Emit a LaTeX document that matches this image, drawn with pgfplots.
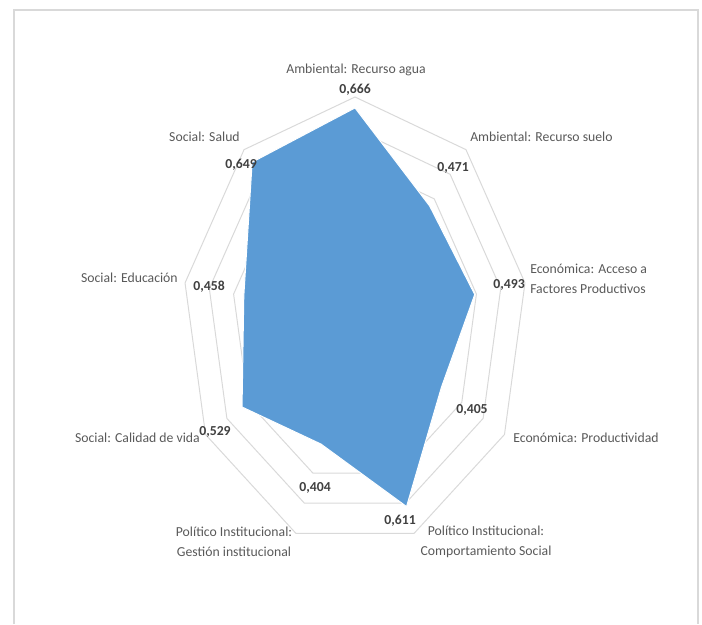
\documentclass[border=0pt]{standalone}
\usepackage{pgfplots}
\pgfplotsset{compat=1.18}
\usepackage{pgfplotstable}
\usepackage{fontspec}
\setmainfont{Carlito}

\definecolor{serie}{HTML}{5B9BD5}
\definecolor{rejilla}{HTML}{D9D9D9}
\definecolor{txtcat}{HTML}{595959}
\definecolor{txtval}{HTML}{404040}

% angle of each spoke (deg), value
\pgfplotstableread{
a v
90 0.666
50 0.471
10 0.493
-30 0.405
-70 0.611
-110 0.404
-150 0.529
170 0.458
130 0.649
}\datos

\begin{document}
\begin{tikzpicture}[
    cat/.style={font=\fontsize{10.3pt}{15pt}\selectfont, text=txtcat, inner sep=0pt},
    val/.style={font=\fontsize{10.3pt}{12pt}\selectfont\bfseries, text=txtval, inner sep=0pt},
]
\begin{axis}[
    scale only axis,
    width=526.5pt, height=468pt,
    xmin=-1.4398, xmax=1.4073,
    ymin=-0.9396, ymax=1.0018,
    hide axis, clip=false,
]
\path (rel axis cs:0,0) rectangle (rel axis cs:1,1);
\draw[rejilla, line width=1pt] (axis cs:-1.383,-0.9396) |- (axis cs:1.391,0.9707) -- (axis cs:1.391,-0.9396);

% rings 0.1 ... 0.7
\pgfplotsinvokeforeach{0.1,0.2,0.3,0.4,0.5,0.6,0.7}{
  \addplot[rejilla, line width=0.75pt, line join=miter]
    table[x expr={#1*cos(\thisrow{a})}, y expr={#1*sin(\thisrow{a})}] {\datos} -- cycle;
}

\addplot[fill=serie, draw=white, line width=0.75pt, line join=miter]
  table[x expr={\thisrow{v}*cos(\thisrow{a})}, y expr={\thisrow{v}*sin(\thisrow{a})}] {\datos} -- cycle;

% category labels
\node[cat, anchor=center] at (axis cs:0.004,0.784) {Ambiental: Recurso agua};
\node[cat, anchor=west] at (axis cs:0.4664,0.5756) {Ambiental: Recurso suelo};
\node[cat, anchor=west, align=left] at (axis cs:0.7097,0.1338) {Económica: Acceso a\\Factores Productivos};
\node[cat, anchor=west] at (axis cs:0.6408,-0.3609) {Económica: Productividad};
\node[cat, anchor=center, align=center] at (axis cs:0.5313,-0.6829) {Político Institucional:\\Comportamiento Social};
\node[cat, anchor=center, align=center] at (axis cs:-0.4907,-0.6829) {Político Institucional:\\Gestión institucional};
\node[cat, anchor=east] at (axis cs:-0.6286,-0.3609) {Social: Calidad de vida};
\node[cat, anchor=east] at (axis cs:-0.7179,0.1369) {Social: Educación};
\node[cat, anchor=east] at (axis cs:-0.4664,0.5756) {Social: Salud};

% value labels
\node[val] at (axis cs:0.000,0.722) {0,666};
\node[val] at (axis cs:0.3975,0.4791) {0,471};
\node[val] at (axis cs:0.6246,0.1151) {0,493};
\node[val] at (axis cs:0.4745,-0.2738) {0,405};
\node[val] at (axis cs:0.1825,-0.6191) {0,611};
\node[val] at (axis cs:-0.1622,-0.5164) {0,404};
\node[val] at (axis cs:-0.5678,-0.3422) {0,529};
\node[val] at (axis cs:-0.5921,0.1089) {0,458};
\node[val] at (axis cs:-0.4623,0.4885) {0,649};
\end{axis}
\end{tikzpicture}
\end{document}
